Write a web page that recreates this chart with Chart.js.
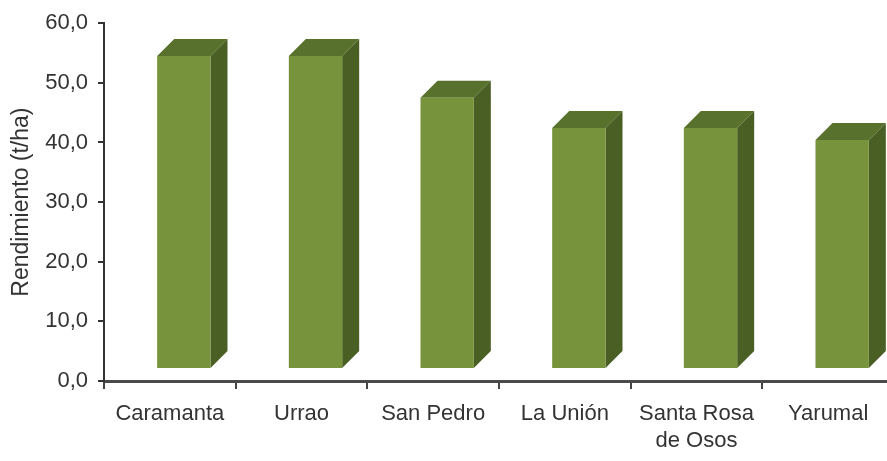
<!DOCTYPE html>
<html>
<head>
<meta charset="utf-8">
<title>Rendimiento por municipio</title>
<script src="https://cdn.jsdelivr.net/npm/chart.js@4/dist/chart.umd.min.js"></script>
<style>
  html, body { margin: 0; padding: 0; background: #fff; overflow: hidden; }
  canvas { display: block; }
</style>
</head>
<body>
<canvas id="rendChart" width="894" height="461"></canvas>
<script>
// Municipalities and yield (t/ha)
const municipios = ['Caramanta', 'Urrao', 'San Pedro', 'La Unión', ['Santa Rosa', 'de Osos'], 'Yarumal'];
const rendimiento = [52.5, 52.5, 45.5, 40.4, 40.4, 38.4];

// Value axis range
const yMin = 0;
const yMax = 60;
const yStep = 10;

const FRONT = '#77933c';
const TOP = '#58712d';
const SIDE = '#4a5f24';
const DEPTH = 17;          // box depth in px
const SHIFT = { x: 14, y: -12 };   // bars sit back from the floor edge

// Draws the top and side faces, then lets the bar controller paint the front face
const bars3d = {
  id: 'bars3d',
  beforeDatasetDraw(chart, args) {
    const ctx = chart.ctx;
    ctx.save();
    ctx.translate(SHIFT.x, SHIFT.y);
    args.meta.data.forEach(bar => {
      const { x, y, base, width } = bar.getProps(['x', 'y', 'base', 'width'], true);
      const l = x - width / 2, r = x + width / 2;
      ctx.fillStyle = TOP;
      ctx.beginPath();
      ctx.moveTo(l, y);
      ctx.lineTo(l + DEPTH, y - DEPTH);
      ctx.lineTo(r + DEPTH, y - DEPTH);
      ctx.lineTo(r, y);
      ctx.closePath();
      ctx.fill();
      ctx.fillStyle = SIDE;
      ctx.beginPath();
      ctx.moveTo(r, y);
      ctx.lineTo(r + DEPTH, y - DEPTH);
      ctx.lineTo(r + DEPTH, base - DEPTH);
      ctx.lineTo(r, base);
      ctx.closePath();
      ctx.fill();
    });
  },
  afterDatasetDraw(chart) {
    chart.ctx.restore();
  }
};

const fontFamily = '"Liberation Sans", Arial, sans-serif';

new Chart(document.getElementById('rendChart'), {
  type: 'bar',
  data: {
    labels: municipios,
    datasets: [{
      data: rendimiento,
      backgroundColor: FRONT,
      borderWidth: 0,
      barPercentage: 0.405,
      categoryPercentage: 1,
      clip: false
    }]
  },
  options: {
    responsive: false,
    animation: false,
    layout: { padding: { top: 20, right: 0, bottom: 0, left: 0 } },
    plugins: {
      legend: { display: false },
      tooltip: { enabled: false }
    },
    scales: {
      x: {
        afterFit: s => { s.height = 80; },
        border: { display: true, color: '#4a4a4a', width: 3 },
        grid: {
          offset: true,
          drawOnChartArea: false,
          drawTicks: true,
          tickLength: 8,
          color: '#444',
          lineWidth: 2
        },
        ticks: {
          color: '#333',
          padding: 11,
          maxRotation: 0,
          autoSkip: false,
          font: { family: fontFamily, size: 22, lineHeight: 1.25 }
        }
      },
      y: {
        min: yMin,
        max: yMax,
        afterFit: s => { s.width = 104; },
        border: { display: true, color: '#333', width: 2 },
        grid: {
          drawOnChartArea: false,
          drawTicks: true,
          tickLength: 6,
          color: '#333',
          lineWidth: 2
        },
        ticks: {
          stepSize: yStep,
          color: '#333',
          padding: 10,
          font: { family: fontFamily, size: 22 },
          callback: v => v.toFixed(1).replace('.', ',')
        },
        title: {
          display: true,
          text: 'Rendimiento (t/ha)',
          color: '#333',
          padding: { top: 8, bottom: 0 },
          font: { family: fontFamily, size: 23 }
        }
      }
    }
  },
  plugins: [bars3d]
});
</script>
</body>
</html>
